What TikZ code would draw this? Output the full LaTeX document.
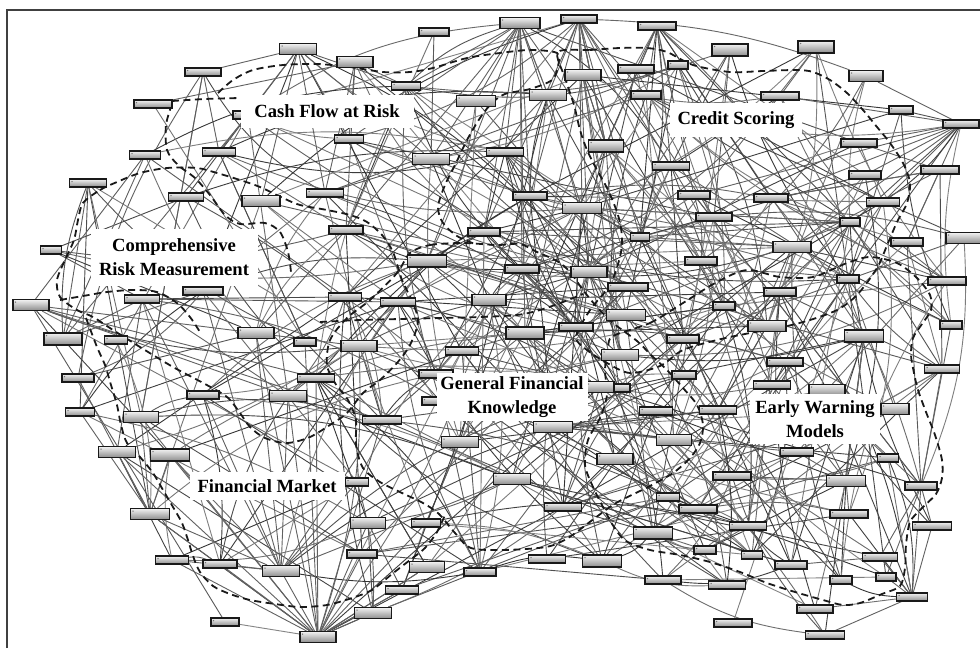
\documentclass[tikz,border=0pt]{standalone}
\usepackage{fontspec}
\setmainfont{Liberation Serif}
\pgfdeclarelayer{back}
\pgfdeclarelayer{edgelayer}
\pgfdeclarelayer{dashlayer}
\pgfsetlayers{back,edgelayer,dashlayer,main}
\begin{document}
\begin{tikzpicture}[x=1pt,y=-1pt,
  nd/.style={draw=black!90, line width=1.1pt, inner sep=0pt,
    top color=black!5, bottom color=black!45,
    path picture={\fill[black!55] ([xshift=2.6pt,yshift=-2.6pt]path picture bounding box.north west) circle (0.75pt);}},
  edge/.style={line width=0.9pt},
  clus/.style={line width=1.8pt, black!90, dash pattern=on 7pt off 4.5pt},
  lab/.style={fill=white, inner sep=0pt, align=center,
    font=\fontsize{18.6}{24}\selectfont\bfseries},
]
\useasboundingbox (0,0) rectangle (980,648);
\begin{pgfonlayer}{back}
  \fill[white] (0,0) rectangle (980,648);
  \draw[black!75, line width=1.3pt] (7,648) -- (7,10) -- (980,10);
\end{pgfonlayer}

% ---------- concept nodes: x / y / width / height ----------
\foreach \x/\y/\w/\h [count=\i] in {
  298/49/37/11, 355/62/36/11, 203/72/36/8, 153/104/38/8, 248/115/30/8,
  145/155/31/8, 219/152/33/8, 88/183/37/8, 186/197/35/8, 261/201/38/11,
  325/193/37/8, 406/86/29/8, 476/101/39/11, 349/139/29/8, 431/159/37/11,
  346/230/34/8, 427/261/39/12, 51/250/21/8, 31/305/36/11, 142/299/35/8,
  203/291/40/8, 345/297/33/8, 398/302/35/8, 256/333/36/11, 484/232/32/8,
  489/300/34/11, 63/339/38/12, 116/340/23/8, 305/342/22/8, 78/378/32/8,
  316/378/37/8, 203/395/32/8, 288/396/37/11, 80/412/29/8, 141/417/35/11,
  520/23/40/11, 579/19/36/8, 657/26/38/8, 434/32/30/8, 548/95/37/11,
  583/75/36/11, 636/69/36/8, 678/65/20/8, 646/95/30/8, 730/50/36/12,
  816/47/36/12, 866/76/34/11, 780/96/38/8, 901/110/24/8, 961/124/36/8,
  859/143/36/8, 606/146/35/12, 505/152/37/8, 671/166/37/8, 865/175/32/8,
  940/170/38/8, 883/202/33/8, 530/196/34/8, 582/208/39/11, 694/195/32/8,
  771/198/34/8, 714/217/36/8, 850/222/20/8, 640/237/19/8, 792/247/38/11,
  907/242/32/8, 964/238/36/11, 701/261/32/8, 848/279/22/8, 947/281/38/8,
  780/292/32/8, 724/306/22/8, 522/269/34/8, 589/272/36/11, 628/287/40/8,
  626/315/39/11, 767/326/38/11, 951/325/22/8, 576/327/34/8, 525/333/38/12,
  359/346/36/11, 462/351/33/8, 620/355/37/11, 436/374/34/8, 619/388/22/8,
  600/387/28/11, 440/401/36/8, 382/420/39/8, 553/427/39/11, 656/411/33/8,
  683/339/32/8, 785/362/36/8, 864/336/39/12, 942/369/35/8, 684/375/24/8,
  772/385/37/8, 827/390/36/11, 718/410/37/8, 895/409/28/11, 674/440/35/11,
  797/452/33/8, 888/458/21/8, 732/476/38/8, 846/481/39/11, 921/486/32/8,
  668/497/23/8, 698/509/38/8, 849/514/38/8, 653/533/39/12, 748/526/37/8,
  932/526/39/8, 705/550/22/8, 752/555/21/8, 663/580/36/8, 791/565/32/8,
  880/557/35/8, 841/580/22/8, 886/577/20/8, 727/585/37/8, 912/597/31/8,
  815/609/36/8, 733/623/38/8, 825/635/39/8, 460/442/37/11, 615/459/36/11,
  512/479/37/11, 357/482/23/8, 563/507/37/8, 368/523/35/11, 426/523/29/8,
  362/554/30/8, 427/567/35/11, 480/572/32/8, 547/559/37/8, 602/561/39/12,
  402/590/33/8, 373/613/37/11, 318/637/36/11, 117/452/37/11, 170/455/39/12,
  150/514/39/11, 172/560/33/8, 220/564/34/8, 281/571/37/11, 225/622/28/8}{
  \node[nd, minimum width=\w pt, minimum height=\h pt] (n\i) at (\x,\y) {};
  \expandafter\xdef\csname ndx\i\endcsname{\x}
  \expandafter\xdef\csname ndy\i\endcsname{\y}
}

% ---------- links between concepts ----------
\begin{pgfonlayer}{edgelayer}
  \pgfmathsetseed{4242}
  \foreach \i in {1,...,145}{
    \foreach \k in {1,...,8}{
      \pgfmathrandominteger{\j}{1}{145}
      \edef\xa{\csname ndx\i\endcsname}\edef\ya{\csname ndy\i\endcsname}
      \edef\xb{\csname ndx\j\endcsname}\edef\yb{\csname ndy\j\endcsname}
      \pgfmathsetmacro{\dd}{veclen(\xa-\xb,\ya-\yb)}
      \pgfmathsetmacro{\mx}{(\xa+\xb)/2}
      \pgfmathsetmacro{\my}{(\ya+\yb)/2}
      % the lower middle of the map stays empty
      \pgfmathsetmacro{\keep}{(\my>578 && \mx>430 && \mx<700) ? 0 : 1}
      \pgfmathrandominteger{\g}{48}{80}
      \pgfmathrandominteger{\bn}{-14}{14}
      \pgfmathsetmacro{\bb}{abs(\bn)>8 ? \bn : 0}
      \ifdim\keep pt>0.5pt \ifdim\dd pt>45pt \ifdim\dd pt<380pt
        \draw[edge, black!\g] (n\i) to[bend left=\bb] (n\j);
      \fi\fi\fi
    }
  }
  % hub concepts with many links
  \foreach \ha/\hlist in {
    36/{13,15,53,58,40,59,52,16,17,25,73,14,12,80},
    37/{41,40,59,52,74,58,44,62,64,25,54},
    38/{44,42,54,60,52},
    1/{3,11,10,14,12,7,15},
    2/{12,14,16,11,4},
    50/{48,51,55,57,61,65,47,60,66},
    56/{51,65,66,61},
    138/{144,33,31,129,130,131,132,136,137,88,24,29,141,142,143,139,140,35},
    144/{20,21,24,32,33,88,141,142,143,126,127},
    141/{35,34,30,139,140},
    104/{93,92,96,101,103,108},
    105/{94,78,111,116,120},
    120/{111,118,123,116},
    19/{31,33,81,88},
    27/{20,21,8,6}}{
    \foreach \hb in \hlist {\draw[edge, black!62] (n\ha) -- (n\hb);}
  }
\end{pgfonlayer}

% ---------- dashed cluster outlines ----------
\begin{pgfonlayer}{dashlayer}
  % Cash Flow at Risk
  \draw[clus] plot[smooth] coordinates {(172,101) (205,99) (240,98)};
  \draw[clus] plot[smooth] coordinates {(218,93) (233,80) (253,70) (283,65)
    (317,64) (350,67) (383,72) (410,72) (433,68) (467,58) (500,53) (530,50)
    (557,53) (558,66) (552,80) (530,89) (505,94) (492,103) (480,118) (467,140)
    (456,163) (445,185) (438,207) (443,223) (457,236) (475,244)};
  \draw[clus] plot[smooth] coordinates {(172,104) (166,125) (167,150) (178,165)
    (195,178) (210,195) (225,215) (240,224) (265,223) (280,232) (288,252) (291,272)};
  % Comprehensive Risk Measurement
  \draw[clus] plot[smooth cycle] coordinates {(83,203) (100,190) (117,182)
    (140,173) (167,168) (197,168) (217,173) (240,180) (260,187) (283,198)
    (300,205) (327,210) (350,215) (367,222) (382,235) (393,252) (402,280)
    (413,303) (418,322) (410,345) (397,363) (380,380) (363,393) (347,413)
    (333,423) (310,437) (287,443) (265,438) (250,427) (240,413) (227,397)
    (205,384) (173,367) (140,347) (113,330) (93,317) (77,310) (60,297)
    (57,280) (65,260) (74,240) (78,220)};
  \draw[clus] plot[smooth] coordinates {(60,300) (83,296) (107,292) (133,290)
    (157,292) (177,303) (190,317) (200,332)};
  % General Financial Knowledge
  \draw[clus] plot[smooth cycle] coordinates {(410,253) (430,245) (463,243)
    (497,245) (520,244) (537,252) (557,261) (570,272) (583,290) (597,307)
    (613,323) (637,341) (652,356) (667,370) (683,388) (697,405) (703,425)
    (700,443) (690,458) (673,473) (648,487) (616,503) (595,518) (568,538)
    (546,547) (503,550) (471,548) (455,533) (439,514) (423,503) (402,493)
    (380,482) (363,468) (356,445) (356,420) (348,400) (335,383) (327,365)
    (330,340) (347,318) (370,300) (397,273)};
  \draw[clus] plot[smooth] coordinates {(320,322) (360,320) (400,319) (440,318)
    (480,317) (517,315) (540,310) (563,302) (583,294)};
  % Credit Scoring
  \draw[clus] plot[smooth cycle] coordinates {(558,52) (590,50) (620,48)
    (647,48) (667,52) (693,65) (730,72) (763,71) (797,70) (813,72) (830,80)
    (847,93) (863,110) (877,127) (890,143) (903,163) (910,183) (907,203)
    (897,222) (888,243) (877,268) (857,295) (837,310) (810,320) (783,327)
    (750,333) (717,340) (683,350) (660,366) (630,373) (607,363) (587,350)
    (576,337) (590,310) (610,285) (620,257) (622,237) (618,215) (608,190)
    (597,170) (587,150) (580,130) (574,105) (565,78)};
  % Early Warning Models
  \draw[clus] plot[smooth cycle] coordinates {(613,336) (650,323) (683,303)
    (717,282) (747,270) (780,277) (813,277) (847,263) (870,257) (897,263)
    (917,278) (930,295) (931,310) (922,324) (913,338) (911,355) (914,373)
    (918,390) (926,412) (935,435) (942,460) (942,478) (936,494) (922,508)
    (910,522) (906,545) (905,568) (900,586) (882,594) (860,603) (843,605)
    (823,600) (795,592) (767,583) (740,572) (710,562) (680,555) (650,550)
    (626,541) (614,527) (603,507) (593,487) (585,465) (588,440) (600,418)
    (607,395) (605,370) (608,348)};
  % Financial Market
  \draw[clus] plot[smooth] coordinates {(86,318) (97,347) (105,365) (111,385)
    (117,405) (121,425) (127,443) (140,457) (153,473) (163,490) (173,507)
    (182,523) (188,540) (193,556) (200,572) (213,586) (230,594) (250,600)
    (275,604) (300,607) (327,605) (352,598) (372,590) (392,574) (410,560)
    (425,548) (437,532) (445,515)};
\end{pgfonlayer}

% ---------- cluster names ----------
\node[lab, minimum width=173pt, minimum height=33pt] (lcf) at (327,111) {Cash Flow at Risk};
\node[lab, minimum width=132pt, minimum height=34pt] (lcs) at (736,120) {Credit Scoring};
\node[lab, minimum width=167pt, minimum height=57pt] (lcrm) at (174,257) {Comprehensive\\Risk Measurement};
\node[lab, minimum width=151pt, minimum height=48pt] (lgfk) at (512,397) {General Financial\\Knowledge};
\node[lab, minimum width=130pt, minimum height=50pt] (lew) at (815,419) {Early Warning\\Models};
\node[lab, minimum width=155pt, minimum height=28pt] (lfm) at (267,486) {Financial Market};
\end{tikzpicture}
\end{document}
